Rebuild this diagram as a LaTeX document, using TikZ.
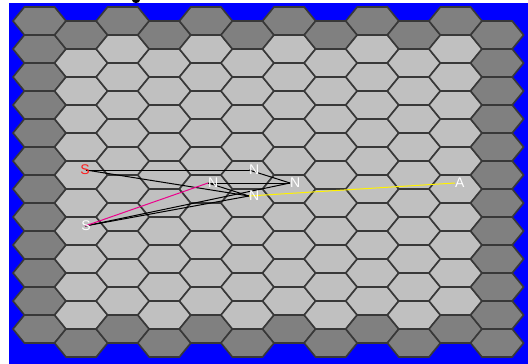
\documentclass[tikz,border=0pt]{standalone}
\usepackage{fontspec}
\setmainfont{Liberation Sans}
\definecolor{hexdark}{RGB}{128,128,128}
\definecolor{hexlight}{RGB}{192,192,192}
\definecolor{hexedge}{RGB}{56,56,56}
\definecolor{bgblue}{RGB}{0,0,255}
\definecolor{sred}{RGB}{255,30,30}
\tikzset{
  hexcell/.style={draw=hexedge, line width=1.6pt, line join=miter},
  blackline/.style={draw=black, line width=1pt},
  magline/.style={draw=magenta, line width=1pt},
  yelline/.style={draw=yellow, line width=1pt},
  lbl/.style={text=white, inner sep=0pt, font=\fontsize{14}{14}\selectfont},
}
\begin{document}
\begin{tikzpicture}[x=1pt,y=-1pt]
\useasboundingbox (0,0) rectangle (528,364);
\fill[white] (0,0) rectangle (528,364);
\fill[bgblue] (9,3) rectangle (528,364);
\fill[black] (132,0) .. controls (132,4) and (140,4) .. (140,0) -- cycle;
\foreach \i in {0,...,11} {
  \foreach \j in {0,...,11} {
    \pgfmathsetmacro\cx{39.5+41.6*\i}
    \pgfmathsetmacro\cy{21+28*\j+14*mod(\i,2)}
    \pgfmathtruncatemacro\bd{(\i==0)||(\i==11)||(\j==0)||(\j==11)}
    \ifnum\bd=1 \def\hf{hexdark}\else\def\hf{hexlight}\fi
    \draw[hexcell, fill=\hf] (\cx-26.5,\cy) -- (\cx-15.1,\cy-14) -- (\cx+15.1,\cy-14)
      -- (\cx+26.5,\cy) -- (\cx+15.1,\cy+14) -- (\cx-15.1,\cy+14) -- cycle;
  }
}
% end points
\coordinate (sr) at (86,170);
\coordinate (sw) at (85,226);
\coordinate (nt) at (249,170);
\coordinate (nr) at (290,183);
\coordinate (nm) at (208,183);
\coordinate (nl) at (249,196);
\coordinate (aa) at (455,183);
% connectors
\draw[blackline] (sr) -- (nt);
\draw[blackline] (nt) -- (nr);
\draw[blackline] (sr) -- (nl);
\draw[blackline] (nm) -- (nr);
\draw[blackline] (sw) -- (nr);
\draw[blackline] (sw) -- (nl);
\draw[blackline] (nm) -- (nl);
\draw[magline] (sw) -- (nm);
\draw[yelline] (nl) -- (aa);
% labels
\node[lbl, text=sred] (lsr) at (85,170) {S};
\node[lbl] (lsw) at (86,226) {S};
\node[lbl, anchor=west] (lnt) at (nt) {N};
\node[lbl, anchor=west] (lnr) at (nr) {N};
\node[lbl, anchor=west] (lnm) at (nm) {N};
\node[lbl, anchor=west] (lnl) at (nl) {N};
\node[lbl, anchor=west] (la) at (aa) {A};
\end{tikzpicture}
\end{document}
